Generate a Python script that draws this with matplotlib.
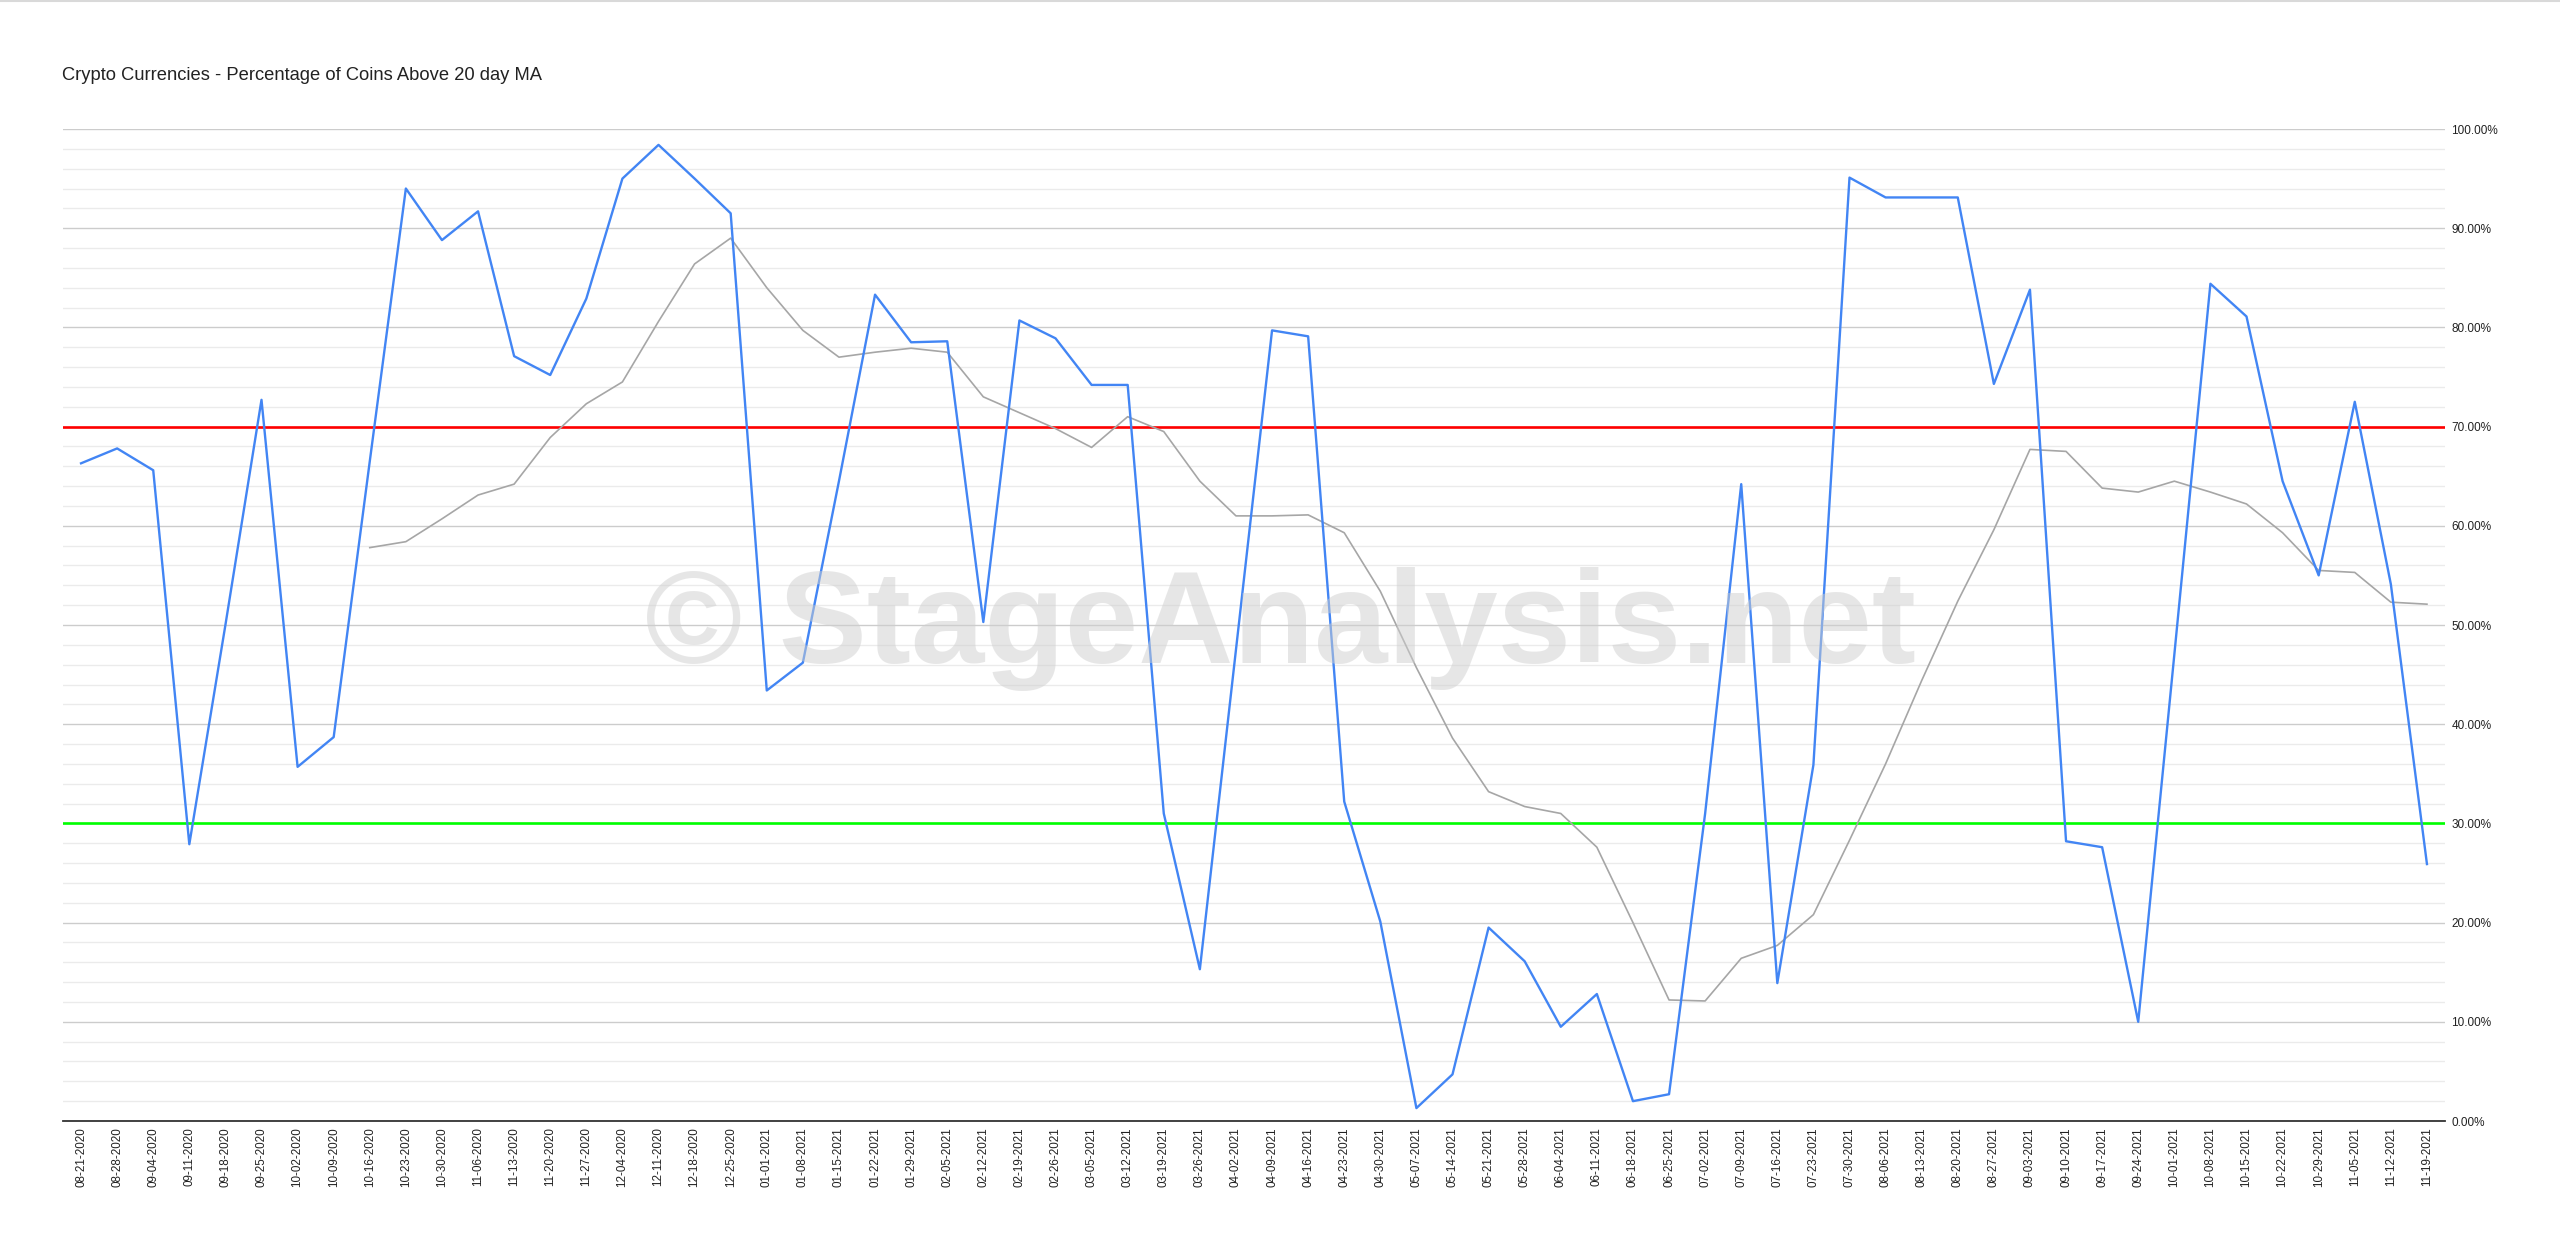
import matplotlib.pyplot as plt
import numpy as np

dates = [
    "08-21-2020", "08-28-2020", "09-04-2020", "09-11-2020", "09-18-2020", "09-25-2020",
    "10-02-2020", "10-09-2020", "10-16-2020", "10-23-2020", "10-30-2020", "11-06-2020",
    "11-13-2020", "11-20-2020", "11-27-2020", "12-04-2020", "12-11-2020", "12-18-2020",
    "12-25-2020", "01-01-2021", "01-08-2021", "01-15-2021", "01-22-2021", "01-29-2021",
    "02-05-2021", "02-12-2021", "02-19-2021", "02-26-2021", "03-05-2021", "03-12-2021",
    "03-19-2021", "03-26-2021", "04-02-2021", "04-09-2021", "04-16-2021", "04-23-2021",
    "04-30-2021", "05-07-2021", "05-14-2021", "05-21-2021", "05-28-2021", "06-04-2021",
    "06-11-2021", "06-18-2021", "06-25-2021", "07-02-2021", "07-09-2021", "07-16-2021",
    "07-23-2021", "07-30-2021", "08-06-2021", "08-13-2021", "08-20-2021", "08-27-2021",
    "09-03-2021", "09-10-2021", "09-17-2021", "09-24-2021", "10-01-2021", "10-08-2021",
    "10-15-2021", "10-22-2021", "10-29-2021", "11-05-2021", "11-12-2021", "11-19-2021",
]

# % of coins above their 20 day MA (weekly)
pct_above = [
    66.3, 67.8, 65.6, 27.9, 50.0, 72.7, 35.7, 38.7, 66.5, 94.0, 88.8, 91.7,
    77.1, 75.2, 82.9, 95.0, 98.4, 95.0, 91.5, 43.4, 46.2, 64.5, 83.3, 78.5,
    78.6, 50.3, 80.7, 78.9, 74.2, 74.2, 31.0, 15.3, 47.5, 79.7, 79.1, 32.2,
    20.1, 1.3, 4.7, 19.5, 16.1, 9.5, 12.8, 2.0, 2.7, 31.0, 64.2, 13.9,
    35.9, 95.1, 93.1, 93.1, 93.1, 74.3, 83.8, 28.2, 27.6, 10.0, 47.0, 84.4,
    81.1, 64.5, 55.0, 72.5, 54.1, 25.9,
]

# smoothed (moving average) line, starts later
nan = np.nan
moving_avg = [
    nan, nan, nan, nan, nan, nan, nan, nan, 57.8, 58.4, 60.7, 63.1,
    64.2, 68.9, 72.3, 74.5, 80.6, 86.4, 89.0, 84.0, 79.7, 77.0, 77.5, 77.9,
    77.5, 73.0, 71.4, 69.8, 67.9, 71.0, 69.5, 64.5, 61.0, 61.0, 61.1, 59.3,
    53.4, 45.7, 38.6, 33.2, 31.7, 31.0, 27.6, 20.0, 12.2, 12.1, 16.4, 17.7,
    20.8, 28.3, 36.0, 44.4, 52.4, 59.6, 67.7, 67.5, 63.8, 63.4, 64.5, 63.4,
    62.2, 59.3, 55.5, 55.3, 52.3, 52.1,
]

upper_level = 70
lower_level = 30

plt.rcParams['font.family'] = ['Liberation Sans', 'DejaVu Sans']

fig = plt.figure(figsize=(25.6, 12.5), dpi=100)
ax = fig.add_axes([63 / 2560, 1 - 1121 / 1250, (2445 - 63) / 2560, (1121 - 129) / 1250])

x = np.arange(len(dates))

# grid
ax.set_ylim(0, 100)
ax.set_xlim(-0.5, len(dates) - 0.5)
ax.set_yticks(np.arange(0, 101, 10))
ax.set_yticks(np.arange(0, 101, 2), minor=True)
ax.grid(True, which='major', axis='y', color='#cccccc', lw=1.0, zorder=0)
ax.grid(True, which='minor', axis='y', color='#ebebeb', lw=1.0, zorder=0)
ax.set_axisbelow(True)

ax.axhline(upper_level, color='#ff0000', lw=1.9, zorder=2)
ax.axhline(lower_level, color='#00ff00', lw=1.9, zorder=2)

ax.plot(x, moving_avg, color='#a6a6a6', lw=1.2, zorder=3)
ax.plot(x, pct_above, color='#4285f4', lw=1.7, zorder=4)

for s in ['top', 'left', 'right']:
    ax.spines[s].set_visible(False)
ax.spines['bottom'].set_color('#333333')
ax.spines['bottom'].set_linewidth(1.3)

ax.yaxis.tick_right()
ax.set_yticklabels([f"{v:.2f}%" for v in range(0, 101, 10)])
ax.tick_params(axis='y', which='both', length=0, pad=4.5, labelsize=8.5, labelcolor='#222222')
ax.set_xticks(x)
ax.set_xticklabels(dates, rotation=90, fontsize=8.4, color='#222222')
ax.tick_params(axis='x', length=0, pad=4.5)

fig.text(62 / 2560, 1 - 80 / 1250, "Crypto Currencies - Percentage of Coins Above 20 day MA",
         fontsize=13.2, color='#222222', ha='left', va='baseline')

# watermark
fig.text(1280 / 2560, 1 - 663 / 1250, "\u00a9 StageAnalysis.net", fontsize=95,
         fontweight='bold', color='#cfcfcf', alpha=0.5, ha='center', va='baseline', zorder=2.5)

fig.add_artist(plt.Line2D([0, 1], [0.9995, 0.9995], color='#d9d9d9', lw=1.5))

fig.savefig("out.png", dpi=100)
